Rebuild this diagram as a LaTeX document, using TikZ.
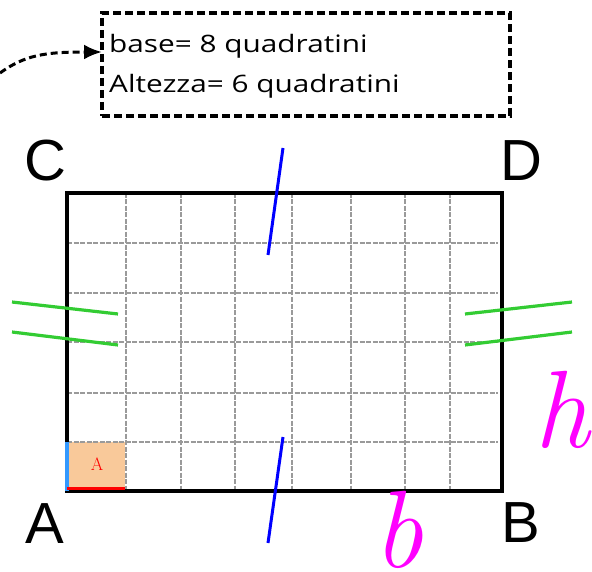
\documentclass[tikz,border=0pt]{standalone}
\usepackage{fontspec}
\newfontfamily\boxfont[FakeStretch=1.24]{Open Sans}
\newfontfamily\labfont{Liberation Sans}
\usetikzlibrary{arrows.meta}
\definecolor{gridgray}{HTML}{9A9A9A}
\definecolor{areafill}{HTML}{F9C99A}
\definecolor{greenl}{HTML}{33CC33}
\definecolor{magl}{HTML}{FF00FF}
\definecolor{lblue}{HTML}{3399FF}
\tikzset{
  gridline/.style={gridgray, line width=1.8pt, dash pattern=on 5pt off 1.5pt},
  infobox/.style={draw, line width=3.2pt, dash pattern=on 8pt off 4pt, minimum width=408pt, minimum height=103pt, inner sep=0pt},
  boxtext/.style={anchor=base west, font=\boxfont\fontsize{24}{24}\selectfont, inner sep=0pt},
  corner/.style={font=\labfont\fontsize{58}{58}\selectfont, inner sep=0pt},
  tick/.style={blue, line width=3pt},
  eqmark/.style={greenl, line width=3.2pt},
  hand/.style={magl, font=\itshape\fontsize{110}{110}\selectfont, inner sep=0pt}
}
\begin{document}
\begin{tikzpicture}[x=1pt,y=-1pt]
\useasboundingbox (0,0) rectangle (592,572);
% info box and arrow
\node[infobox] (info) at (306,64.5) {};
\node[boxtext] (t1) at (109,53) {base= 8 quadratini};
\node[boxtext] (t2) at (109,93) {Altezza= 6 quadratini};
\coordinate (start) at (0,73);
\coordinate (tip) at (102,52);
\draw[line width=3pt, dash pattern=on 7pt off 4pt, -{Latex[length=18pt,width=15pt]}] (start) .. controls (25,55) and (45,52) .. (tip);
% corners of rectangle
\coordinate (A) at (67,491);
\coordinate (B) at (502,491);
\coordinate (C) at (67,193);
\coordinate (D) at (502,193);
% area square
\fill[areafill] (67,442) rectangle (125,491);
\node[red, font=\fontsize{18}{18}\selectfont, inner sep=0pt] (aa) at (97,464) {A};
% grid
\foreach \gx in {126,181,235,292,351,405,450} \draw[gridline] (\gx,193) -- (\gx,491);
\foreach \gy in {243,293,342,393,442} \draw[gridline] (67,\gy) -- (498,\gy);
% outline
\draw[line width=3.4pt] (A) -- (B) -- (D) -- (C) -- cycle;
\draw[lblue, line width=3.2pt] (67,442) -- (67,491);
\draw[red, line width=3.2pt] (67,488.5) -- (125,488.5);
% labels
\node[corner] (lC) at (45,161) {C};
\node[corner] (lD) at (521,161) {D};
\node[corner] (lA) at (45,524) {A};
\node[corner] (lB) at (521,523) {B};
% equal-length ticks
\draw[tick] (268,255) -- (283,148);
\draw[tick] (268,543) -- (283,437);
\draw[eqmark] (12,302) -- (118,314);
\draw[eqmark] (12,332) -- (118,345);
\draw[eqmark] (465,314) -- (572,302);
\draw[eqmark] (465,345) -- (572,332);
% handwritten letters
\node[hand] (h) at (562,410) {h};
\node[hand] (b) at (398,530) {b};
\end{tikzpicture}
\end{document}
